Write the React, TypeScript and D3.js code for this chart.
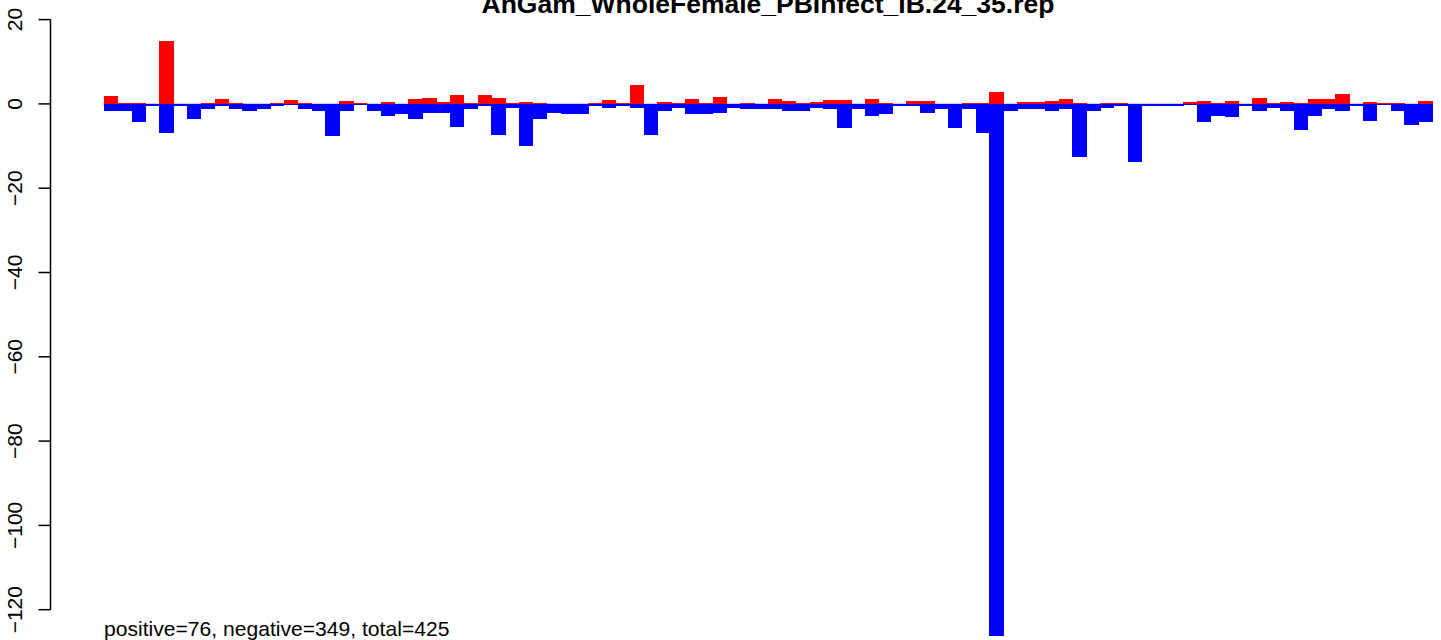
import React from "react";
import * as d3 from "d3";

const title = "AnGam_WholeFemale_PBInfect_IB.24_35.rep";
const footer = "positive=76, negative=349, total=425";

const positives: number[] = [
  1.8, 0.3, 0.3, 0, 15.0, 0, 0, 0.3, 1.26, 0.1, 0, 0,
  0.3, 1.0, 0.3, 0, 0, 0.8, 0.3, 0, 0.55, 0, 1.26, 1.5,
  0.55, 2.2, 0.1, 2.0, 1.5, 0.1, 0.55, 0.1, 0, 0, 0, 0.3,
  1.0, 0.1, 4.6, 0, 0.55, 0.3, 1.26, 0.3, 1.75, 0, 0.3, 0,
  1.26, 0.8, 0.1, 0.55, 1.0, 1.0, 0, 1.26, 0.1, 0, 0.8, 0.8,
  0, 0, 0.3, 0.1, 2.9, 0, 0.55, 0.55, 0.8, 1.26, 0.1, 0,
  0.1, 0.1, 0, 0, 0, 0, 0.55, 0.8, 0.3, 0.8, 0, 1.5,
  0.3, 0.55, 0.3, 1.26, 1.26, 2.45, 0, 0.55, 0.3, 0.3, 0, 0.8,
];

const negatives: number[] = [
  -1.8, -1.6, -4.4, -0.4, -7.0, -0.55, -3.5, -1.3, -0.55, -1.1, -1.8, -1.1,
  -0.6, -0.3, -1.3, -1.8, -7.7, -1.8, -0.3, -1.8, -2.8, -2.3, -3.7, -2.1,
  -2.1, -5.4, -1.3, -0.6, -7.3, -0.9, -9.9, -3.7, -2.1, -2.3, -2.5, -0.4,
  -0.9, -0.6, -0.9, -7.3, -1.8, -0.9, -2.3, -2.5, -2.1, -0.9, -1.3, -1.1,
  -1.1, -1.6, -1.8, -0.9, -1.1, -5.6, -1.3, -2.8, -2.5, -0.6, -0.6, -2.1,
  -1.3, -5.6, -1.1, -7.0, -126.3, -1.6, -1.1, -1.1, -1.6, -1.1, -12.5, -1.6,
  -0.9, -0.6, -13.7, -0.4, -0.6, -0.4, -0.25, -4.2, -2.8, -3.0, -0.6, -1.8,
  -0.9, -1.8, -6.3, -2.8, -1.3, -1.8, -0.4, -4.0, -0.2, -1.8, -4.9, -4.2,
];

const categories: string[] = positives.map((_, i) => `bin${i + 1}`);
const yTicks: number[] = [20, 0, -20, -40, -60, -80, -100, -120];

const W = 1441;
const H = 640;
const FONT = "'Liberation Sans', Arial, Helvetica, sans-serif";

export default function App() {
  const x = d3.scaleBand<string>().domain(categories).range([104, 1432]).padding(0);
  const y = d3.scaleLinear().domain([-120, 20]).range([609.7, 19.6]);
  const y0 = y(0);
  const axisX = 50.5;

  return (
    <svg
      width={W}
      height={H}
      viewBox={`0 0 ${W} ${H}`}
      style={{ position: "absolute", left: 0, top: 0, background: "#fff" }}
      fontFamily={FONT}
    >
      <rect x={0} y={0} width={W} height={H} fill="#ffffff" />
      {/* baseline */}
      <line x1={x(categories[0])! - 1} x2={x(categories[categories.length - 1])! + x.bandwidth() + 1} y1={y0} y2={y0} stroke="#bebebe" strokeWidth={1.5} />
      <g shapeRendering="crispEdges">
        {positives.map((v, i) =>
          v > 0 ? (
            <rect key={`p${i}`} x={x(categories[i])} y={y(v)} width={x.bandwidth() + 0.5} height={y0 - y(v)} fill="#ff0000" />
          ) : null
        )}
        {negatives.map((v, i) =>
          v < 0 ? (
            <rect key={`n${i}`} x={x(categories[i])} y={y0} width={x.bandwidth() + 0.5} height={y(v) - y0} fill="#0000ff" />
          ) : null
        )}
      </g>
      {/* y axis */}
      <g stroke="#000" strokeWidth={1.5} fill="none">
        <line x1={axisX} x2={axisX} y1={y(20)} y2={y(-120)} />
        {yTicks.map((t) => (
          <line key={t} x1={axisX - 12} x2={axisX} y1={y(t)} y2={y(t)} />
        ))}
      </g>
      <g fontSize={21} fill="#000">
        {yTicks.map((t) => (
          <text key={t} transform={`translate(22,${y(t)}) rotate(-90)`} textAnchor="middle">
            {t < 0 ? `\u2212${Math.abs(t)}` : `${t}`}
          </text>
        ))}
      </g>
      <text x={768} y={12.5} textAnchor="middle" fontSize={26.5} fontWeight="bold" fill="#000">
        {title}
      </text>
      <text x={104} y={636} fontSize={21.1} fill="#000">
        {footer}
      </text>
    </svg>
  );
}
